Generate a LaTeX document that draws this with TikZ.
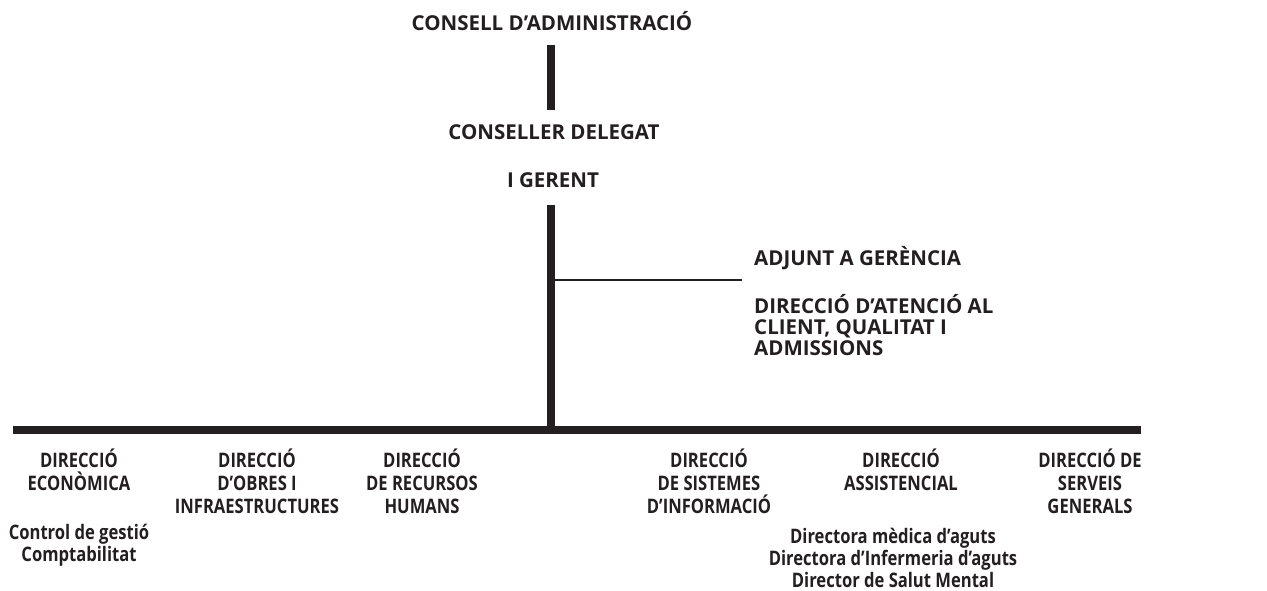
\documentclass[tikz,border=0pt]{standalone}
\usepackage{fontspec}
\setmainfont{Open Sans}
\newfontfamily\condfont[FakeStretch=0.83]{Open Sans}
\definecolor{ink}{HTML}{231F20}
\begin{document}
\begin{tikzpicture}[x=1pt,y=-1pt,
  top/.style={inner sep=0pt,text=ink,font=\fontsize{20.5}{21}\selectfont\bfseries,align=center,anchor=base},
  lbl/.style={inner sep=0pt,text=ink,font=\condfont\fontsize{20}{23}\selectfont\bfseries,align=center,anchor=base},
  sub/.style={inner sep=0pt,text=ink,font=\condfont\fontsize{20}{22}\selectfont\bfseries,align=center,anchor=base},
  side/.style={inner sep=0pt,text=ink,font=\fontsize{20.5}{21}\selectfont\bfseries,align=left,anchor=base west},
  bar/.style={draw=ink,line width=8pt},
  thin/.style={draw=ink,line width=2pt}]
\useasboundingbox (0,0) rectangle (1267,590);
\node[top] (consell) at (552,30) {CONSELL D’ADMINISTRACIÓ};
\node[top] (conseller) at (554,139) {CONSELLER DELEGAT};
\node[top] (gerent) at (553,187) {I GERENT};
\node[side] (adjunt) at (754,265) {ADJUNT A GERÈNCIA};
\node[side] (atencio) at (754,355) {DIRECCIÓ D’ATENCIÓ AL\\CLIENT, QUALITAT I\\ADMISSIONS};
\coordinate (t1) at (551,45);
\coordinate (t2) at (551,110);
\coordinate (g1) at (551,205);
\coordinate (bus) at (551,434);
\coordinate (adjJ) at (551,280);
\coordinate (adjE) at (742,280);
\coordinate (busL) at (13,430);
\coordinate (busR) at (1141,430);
\draw[bar] (t1) -- (t2);
\draw[bar] (g1) -- (bus);
\draw[thin] (adjJ) -- (adjE);
\draw[bar] (busL) -- (busR);
\node[lbl] (eco) at (79,490) {DIRECCIÓ\\ECONÒMICA};
\node[sub] (ecosub) at (79,561) {Control de gestió\\Comptabilitat};
\node[lbl] (obres) at (257,513) {DIRECCIÓ\\D’OBRES I\\INFRAESTRUCTURES};
\node[lbl] (rrhh) at (422,513) {DIRECCIÓ\\DE RECURSOS\\HUMANS};
\node[lbl] (si) at (709,513) {DIRECCIÓ\\DE SISTEMES\\D’INFORMACIÓ};
\node[lbl] (asis) at (901,490) {DIRECCIÓ\\ASSISTENCIAL};
\node[sub] (asissub) at (893,587) {Directora mèdica d’aguts\\Directora d’Infermeria d’aguts\\Director de Salut Mental};
\node[lbl] (serveis) at (1090,513) {DIRECCIÓ DE\\SERVEIS\\GENERALS};
\end{tikzpicture}
\end{document}
